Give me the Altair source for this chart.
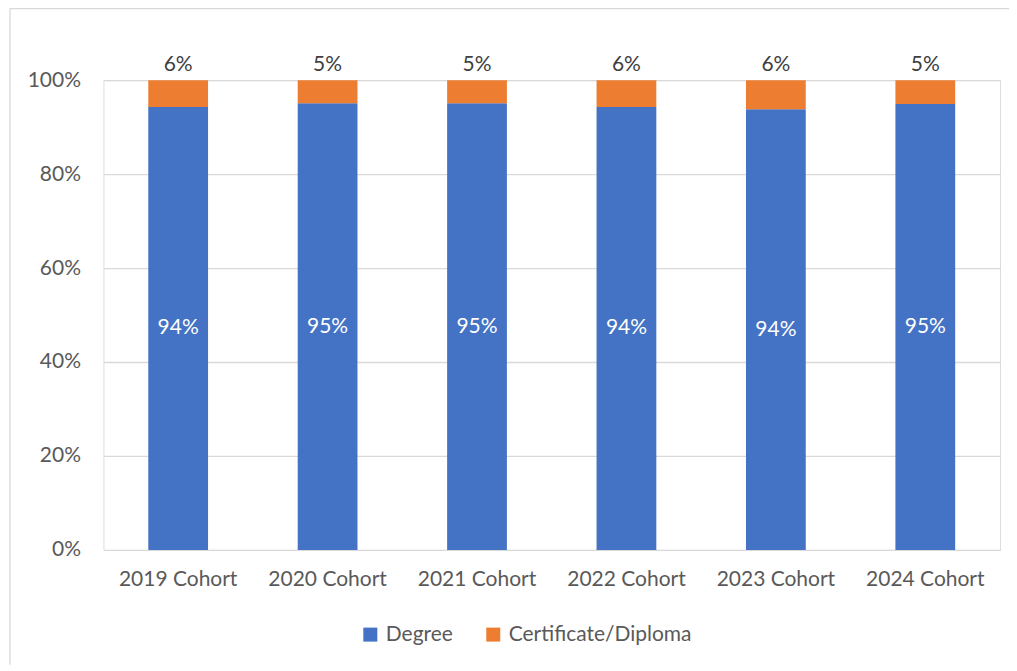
import altair as alt
import pandas as pd

cohorts = ["2019 Cohort", "2020 Cohort", "2021 Cohort", "2022 Cohort", "2023 Cohort", "2024 Cohort"]
degree = [0.943, 0.951, 0.951, 0.943, 0.938, 0.949]
certificate = [0.057, 0.049, 0.049, 0.057, 0.062, 0.051]
series = ["Degree", "Certificate/Diploma"]
colors = ["#4472C4", "#ED7D31"]

rows = []
for i, c in enumerate(cohorts):
    rows.append({"cohort": c, "type": series[0], "value": degree[i], "ord": 0})
    rows.append({"cohort": c, "type": series[1], "value": certificate[i], "ord": 1})
df = pd.DataFrame(rows)

FONT = "Lato"
GREY = "#595959"
FS = 21
W, H = 897, 470

base = alt.Chart(df)

x = alt.X("cohort:N", sort=cohorts, title=None,
          scale=alt.Scale(paddingInner=0.6, paddingOuter=0.3),
          axis=alt.Axis(labelAngle=0, domain=False, ticks=False, labelPadding=19,
                        labelFontSize=FS, labelColor=GREY, labelFont=FONT))

bars = base.mark_bar().encode(
    x=x,
    y=alt.Y("value:Q", stack="zero", title=None,
            scale=alt.Scale(domain=[0, 1], nice=False),
            axis=alt.Axis(format=".0%", values=[0, 0.2, 0.4, 0.6, 0.8, 1.0],
                          domain=False, ticks=False, labelPadding=23,
                          labelFontSize=FS, labelColor=GREY, labelFont=FONT,
                          gridColor="#d9d9d9", gridWidth=1.3)),
    color=alt.Color("type:N", scale=alt.Scale(domain=series, range=colors),
                    legend=alt.Legend(title=None, orient="none", direction="horizontal",
                                      legendX=256.5, legendY=544,
                                      symbolType="square", symbolSize=196,
                                      symbolStrokeWidth=0, labelLimit=0,
                                      labelFontSize=FS, labelColor=GREY, labelFont=FONT,
                                      labelOffset=5, columnPadding=29)),
    order=alt.Order("ord:Q", sort="ascending"),
)

deg_labels = base.transform_filter(
    alt.datum.type == "Degree"
).transform_calculate(
    mid="datum.value / 2"
).mark_text(color="white", fontSize=FS, font=FONT, baseline="middle").encode(
    x=alt.X("cohort:N", sort=cohorts),
    y=alt.Y("mid:Q"),
    text=alt.Text("value:Q", format=".0%"),
)

cert_labels = base.transform_joinaggregate(
    total="sum(value)", groupby=["cohort"]
).transform_filter(
    alt.datum.type == "Certificate/Diploma"
).mark_text(color="#404040", fontSize=FS, font=FONT, baseline="bottom", dy=-5).encode(
    x=alt.X("cohort:N", sort=cohorts),
    y=alt.Y("total:Q"),
    text=alt.Text("value:Q", format=".0%"),
)

frame_df = pd.DataFrame({"a": [0]})
left_border = alt.Chart(frame_df).mark_rule(color="#d9d9d9", strokeWidth=1.3).encode(
    x=alt.value(-93.5), y=alt.value(-72), y2=alt.value(H + 115)
)
top_border = alt.Chart(frame_df).mark_rule(color="#d9d9d9", strokeWidth=1.3).encode(
    x=alt.value(-93.5), x2=alt.value(W + 9), y=alt.value(-71.5)
)

chart = alt.layer(bars, deg_labels, cert_labels, left_border, top_border).properties(
    width=W, height=H,
    autosize=alt.AutoSizeParams(type="none"),
    padding={"left": 95.5, "top": 72, "right": 9, "bottom": 115},
).configure_view(stroke=None).configure(background="white")

chart.save("out.html", embed_options={"renderer": "svg", "actions": False})
